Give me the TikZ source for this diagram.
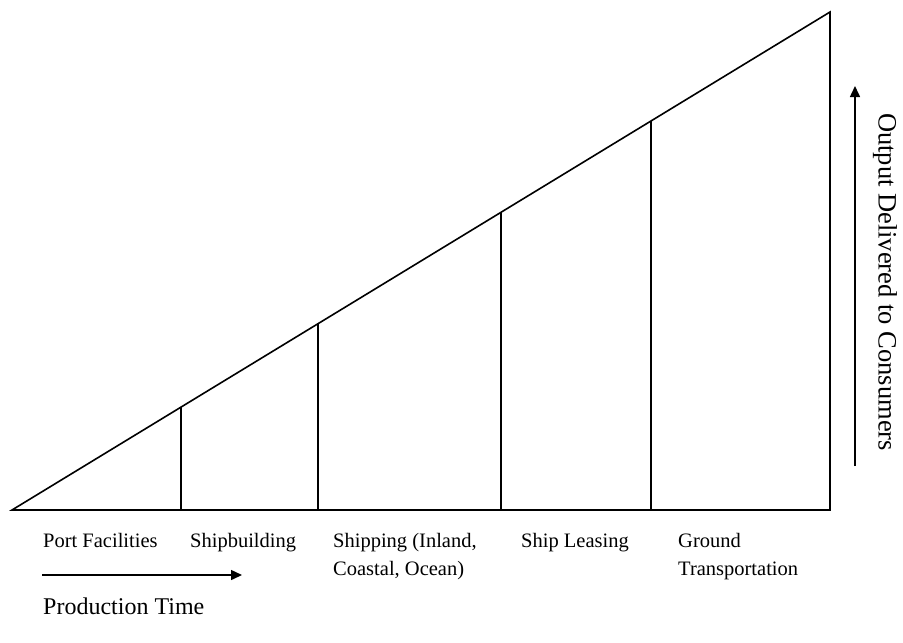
\documentclass[tikz,border=0pt]{standalone}
\usepackage{fontspec}
\setmainfont{Liberation Serif}
\usetikzlibrary{arrows.meta}
\begin{document}
\begin{tikzpicture}[x=1pt,y=-1pt,
  edge/.style={line width=1.6pt},
  lbl/.style={anchor=base west,inner sep=0pt,font=\fontsize{20.5}{28}\selectfont,align=left},
  axarrow/.style={line width=1.5pt,-{Triangle[length=11pt,width=10pt]}}]
\useasboundingbox (0,0) rectangle (903,643);
\coordinate (A) at (12,510);
\coordinate (B) at (830,510);
\coordinate (C) at (830,12);
\draw[edge,line join=miter] (A) -- (B) -- (C) -- cycle;
\foreach \n/\x in {v1/181,v2/318,v3/501,v4/651}{
  \coordinate (\n b) at (\x,510);
  \path (A) -- (C) coordinate[pos={(\x-12)/818}] (\n t);
  \draw[edge] (\n b) -- (\n t);
}
\node[lbl] (l1) at (43,547) {Port Facilities};
\node[lbl] (l2) at (190,547) {Shipbuilding};
\node[lbl] (l3) at (333,575) {Shipping (Inland,\\Coastal, Ocean)};
\node[lbl] (l4) at (521,547) {Ship Leasing};
\node[lbl] (l5) at (678,575) {Ground\\Transportation};
\coordinate (p1) at (42,575);
\coordinate (p2) at (242,575);
\draw[axarrow] (p1) -- (p2);
\node[anchor=base west,inner sep=0pt,font=\fontsize{24}{26}\selectfont] (pt) at (43,614) {Production Time};
\coordinate (o1) at (855,466);
\coordinate (o2) at (855,86);
\draw[axarrow] (o1) -- (o2);
\node[rotate=-90,inner sep=0pt,font=\fontsize{26.5}{28}\selectfont] (od) at (885,282) {Output Delivered to Consumers};
\end{tikzpicture}
\end{document}
